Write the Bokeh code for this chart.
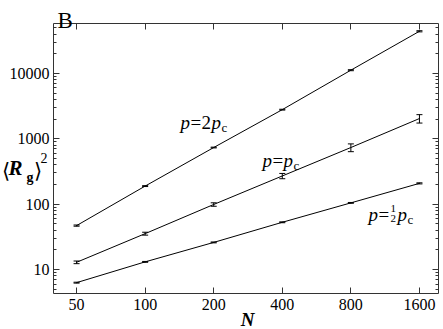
import numpy as np
from bokeh.plotting import figure
from bokeh.models import (LogAxis, FixedTicker, PrintfTickFormatter, Label,
                          ColumnDataSource, Range1d, Grid)
from bokeh.embed import file_html
from bokeh.resources import INLINE

# ---- data ----
N = [50, 100, 200, 400, 800, 1600]
rg_2pc = [47, 189, 735, 2790, 11200, 44100]
err_2pc = [1.0, 3.0, 10.0, 40.0, 200.0, 900.0]
rg_pc = [12.9, 35.4, 98.9, 270, 735, 2040]
err_pc = [0.6, 1.8, 6.0, 25.0, 100.0, 300.0]
rg_half = [6.3, 13.1, 26.0, 52.8, 104.6, 208]
err_half = [0.1, 0.2, 0.4, 0.8, 1.5, 4.0]
x_ticks = [50, 100, 200, 400, 800, 1600]
y_ticks = [10, 100, 1000, 10000]

# axis limits (data) and the plot box on the canvas (pixels)
X0, X1 = 39.6, 1940
Y0, Y1 = 4.3, 58000
W, H = 443, 329
BL, BR, BT, BB = 53, 438, 23, 293
SERIF = "Times New Roman"

lx0, lx1 = np.log10(X0), np.log10(X1)
ly0, ly1 = np.log10(Y0), np.log10(Y1)
kx = (lx1 - lx0) / (BR - BL)
ky = (ly1 - ly0) / (BB - BT)
XA, XB = 10 ** (lx0 - BL * kx), 10 ** (lx1 + (W - BR) * kx)
YA, YB = 10 ** (ly0 - (H - BB) * ky), 10 ** (ly1 + BT * ky)

p = figure(width=W, height=H, x_axis_type="log", y_axis_type="log",
           x_range=Range1d(XA, XB), y_range=Range1d(YA, YB),
           x_axis_location=None, y_axis_location=None, title=None,
           output_backend="svg", toolbar_location=None,
           min_border_left=0, min_border_right=0, min_border_top=0, min_border_bottom=0)
p.min_border = 0
p.outline_line_color = None
p.background_fill_color = "white"
p.border_fill_color = "white"
for g in p.select(type=Grid):
    g.visible = False
p.center = [r for r in p.center if not isinstance(r, Grid)]

y_minor = [v * m for v in [1, 10, 100, 1000, 10000] for m in range(2, 10) if Y0 <= v * m <= Y1]

def make_axis(ticks, minor, loc, bounds, side, labels, standoff):
    ax = LogAxis(ticker=FixedTicker(ticks=ticks, minor_ticks=minor),
                 formatter=PrintfTickFormatter(format="%d"),
                 fixed_location=loc, bounds=bounds)
    ax.axis_line_color = "#333333"
    ax.major_tick_line_color = "#333333"
    ax.minor_tick_line_color = "#333333" if minor else None
    ax.major_tick_in = 6
    ax.major_tick_out = 0
    ax.minor_tick_in = 3
    ax.minor_tick_out = 0
    ax.major_label_text_font = SERIF
    ax.major_label_text_font_size = "16px" if labels else "0px"
    ax.major_label_text_color = "black"
    ax.major_label_standoff = standoff
    p.add_layout(ax, side)
    return ax

make_axis(x_ticks, [], Y0, (X0, X1), "below", True, 5)
make_axis(y_ticks, y_minor, X0, (Y0, Y1), "left", True, 4)
make_axis(x_ticks, [], Y1, (X0, X1), "above", False, 0)
make_axis(y_ticks, y_minor, X1, (Y0, Y1), "right", False, 0)

for vals, errs in [(rg_2pc, err_2pc), (rg_pc, err_pc), (rg_half, err_half)]:
    v = np.array(vals, dtype=float)
    e = np.array(errs, dtype=float)
    src = ColumnDataSource(dict(x=N, y=v, lo=v - e, hi=v + e))
    p.line("x", "y", source=src, line_color="black", line_width=1)
    p.segment(x0="x", y0="lo", x1="x", y1="hi", source=src, line_color="black", line_width=1)
    p.scatter("x", "hi", source=src, marker="dash", size=6, line_color="black", line_width=1)
    p.scatter("x", "lo", source=src, marker="dash", size=6, line_color="black", line_width=1)

def dx(px):
    return 10 ** (lx0 + (px - BL) * kx)

def dy(py):
    return 10 ** (ly1 - (py - BT) * ky)

def txt(s, px, py, size, style="normal", align="left"):
    p.add_layout(Label(x=dx(px), y=dy(py), text=s, text_font=SERIF,
                       text_font_size=f"{size}px", text_font_style=style,
                       text_align=align, text_baseline="alphabetic",
                       text_color="black"))

# panel letter
txt("B", 57, 20, 23)
# x label
txt("N", 247, 319, 19, "bold italic", "center")
# y label <R_g>^2
txt("\u27e8", 1, 170, 21)
txt("R", 8, 167, 21, "bold italic")
txt("g", 26, 177, 14, "bold")
txt("\u27e9", 33, 170, 21)
txt("2", 40, 157, 14)

# series annotations
def plabel(px, py, mid):
    x = px
    txt("p", x, py, 19, "italic"); x += 10
    txt("=", x, py, 19); x += 11
    if mid == "2":
        txt("2", x, py, 19); x += 10
    elif mid == "half":
        txt("1", x + 1, py - 6, 11)
        txt("2", x + 1, py + 4, 11); x += 8
    txt("p", x, py, 19, "italic"); x += 10
    txt("c", x, py + 5, 13)

plabel(180, 122, "2")
plabel(262, 160, "")
plabel(368, 214, "half")

open("out.html", "w").write(file_html(p, INLINE))
